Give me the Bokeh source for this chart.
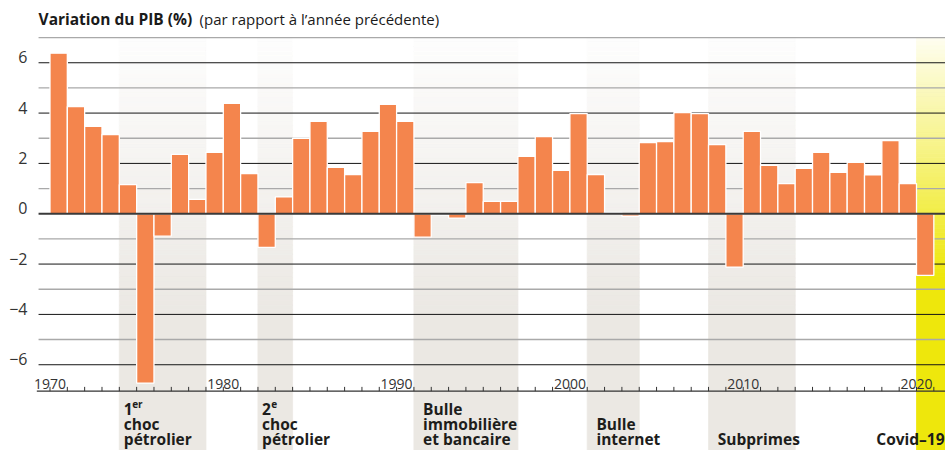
from bokeh.plotting import figure
from bokeh.models import ColumnDataSource, Range1d
from bokeh.core.properties import value
from bokeh.embed import file_html
from bokeh.resources import INLINE

# ---------------- data ----------------
years = list(range(1970, 2021))
gdp = [6.38, 4.26, 3.47, 3.15, 1.16, -6.73, -0.89, 2.36, 0.57, 2.44,
       4.39, 1.60, -1.34, 0.67, 3.00, 3.67, 1.84, 1.56, 3.27, 4.35,
       3.67, -0.93, -0.05, -0.17, 1.24, 0.49, 0.49, 2.28, 3.07, 1.72,
       3.98, 1.56, 0.05, -0.10, 2.83, 2.87, 4.02, 3.98, 2.75, -2.12,
       3.27, 1.92, 1.20, 1.80, 2.44, 1.65, 2.04, 1.55, 2.91, 1.20, -2.45]

y_ticks = [6, 4, 2, 0, -2, -4, -6]
y_tick_labels = ["6", "4", "2", "0", "\u22122", "\u22124", "\u22126"]
x_tick_years = [1970, 1980, 1990, 2000, 2010, 2020]

event_start = [1974, 1982, 1991, 2001, 2008, 2020]
event_end = [1979, 1984, 1997, 2004, 2013, 2022]
event_lines = [["1", "choc", "p\u00e9trolier"],
               ["2", "choc", "p\u00e9trolier"],
               ["Bulle", "immobili\u00e8re", "et bancaire"],
               ["Bulle", "internet"],
               ["Subprimes"],
               ["Covid\u201319"]]
event_sup = ["er", "e", "", "", "", ""]
event_kind = ["gray", "gray", "gray", "gray", "gray", "covid"]

title_bold = "Variation du PIB (%)"
title_rest = "(par rapport \u00e0 l\u2019ann\u00e9e pr\u00e9c\u00e9dente)"

# ---------------- layout / style ----------------
FONT = "Open Sans"
ORANGE = "#f4854d"
X0, X1 = 1967.144, 2021.673
Y0, Y1 = -9.408, 8.474
GRID_LEFT = 1969.34
AXIS_Y = -7.05
label_x = [1974.26, 1982.24, 1991.53, 2001.53, 2008.53, 2021.62]
label_align = ["left", "left", "left", "left", "left", "right"]
sup_x = [1974.74, 1982.76, None, None, None, None]
BASE_Y = -8.96
LINE_STEP = 0.596
SUP_Y = -7.56

p = figure(width=945, height=450, x_range=Range1d(X0, X1), y_range=Range1d(Y0, Y1),
           output_backend="svg", toolbar_location=None,
           x_axis_type=None, y_axis_type=None, min_border=0)
p.min_border_left = p.min_border_right = p.min_border_top = p.min_border_bottom = 0
p.outline_line_color = None
p.grid.visible = False
p.background_fill_color = "white"
p.border_fill_color = "white"


def mix(c, t):
    r, g, b = int(c[1:3], 16), int(c[3:5], 16), int(c[5:7], 16)
    rr = round(255 + (r - 255) * t)
    gg = round(255 + (g - 255) * t)
    bb = round(255 + (b - 255) * t)
    return "#%02x%02x%02x" % (rr, gg, bb)


# gradient bands
band_style = {"gray": ("#ebe8e3", -4.0, 0.08), "covid": ("#eee70c", -2.5, 0.06)}
N = 60
ql, qr, qt, qb, qc = [], [], [], [], []
for s, e, k in zip(event_start, event_end, event_kind):
    base, v_full, t0 = band_style[k]
    step = (7 - v_full) / N
    for i in range(N):
        top = 7 - i * step
        ql.append(s); qr.append(e); qt.append(top); qb.append(top - step)
        qc.append(mix(base, t0 + (1 - t0) * (i + 0.5) / N))
    ql.append(s); qr.append(e); qt.append(v_full); qb.append(Y0); qc.append(base)
p.quad(left=ql, right=qr, top=qt, bottom=qb, fill_color=qc, line_color=qc, line_width=0.8)

# gridlines
levels = [v for v in range(-6, 8) if v != 0]
gcol = ["#151515" if v % 2 == 0 else "#a9a9a9" for v in levels]
gw = [1.0 if v % 2 == 0 else 1.4 for v in levels]
p.segment(x0=[GRID_LEFT] * len(levels), x1=[X1] * len(levels), y0=levels, y1=levels,
          line_color=gcol, line_width=gw)

# bars
src = ColumnDataSource(dict(x=[y + 0.5 for y in years], top=gdp))
p.vbar(x="x", top="top", bottom=0, width=1.0, source=src,
       fill_color=ORANGE, line_color="white", line_width=1.3)

# zero line
p.segment(x0=[GRID_LEFT], x1=[X1], y0=[0], y1=[0], line_color="#3a3a3a", line_width=2)

# x axis line + ticks
p.segment(x0=[GRID_LEFT - 0.1], x1=[X1], y0=[AXIS_Y], y1=[AXIS_Y], line_color="#333333", line_width=1.4)
tick_years = list(range(1970, 2022))
p.segment(x0=tick_years, x1=tick_years, y0=[AXIS_Y] * len(tick_years),
          y1=[AXIS_Y + 0.17] * len(tick_years), line_color="#333333", line_width=1)
p.text(x=x_tick_years, y=[-6.75] * len(x_tick_years), text=[str(y) for y in x_tick_years],
       text_font=value(FONT), text_font_size="14px", text_color="#333333",
       text_align="center", text_baseline="alphabetic")

# y tick labels
p.text(x=[1968.70] * len(y_ticks), y=[v + 0.21 for v in y_ticks], text=y_tick_labels,
       text_font=value(FONT), text_font_size="16px", text_color="#333333",
       text_align="right", text_baseline="middle")

# title
p.text(x=[GRID_LEFT], y=[7.75], text=[title_bold], text_font=value(FONT),
       text_font_size="15.5px", text_font_style="bold", text_color="#1a1a1a",
       text_align="left", text_baseline="alphabetic")
p.text(x=[1978.63], y=[7.75], text=[title_rest], text_font=value(FONT),
       text_font_size="15px", text_color="#1a1a1a",
       text_align="left", text_baseline="alphabetic")

# event annotations
tx, ty, tt, ta = [], [], [], []
for lx, al, lines in zip(label_x, label_align, event_lines):
    n = len(lines)
    for j, line in enumerate(lines):
        tx.append(lx); ty.append(BASE_Y + (n - 1 - j) * LINE_STEP); tt.append(line); ta.append(al)
p.text(x=tx, y=ty, text=tt, text_align=ta, text_font=value(FONT), text_font_size="15.5px",
       text_font_style="bold", text_color="#1d1d1b", text_baseline="alphabetic")
sx, sy, st = [], [], []
for x_, sup, lines in zip(sup_x, event_sup, event_lines):
    if sup:
        sx.append(x_); sy.append(SUP_Y); st.append(sup)
p.text(x=sx, y=sy, text=st, text_font=value(FONT), text_font_size="10px",
       text_font_style="bold", text_color="#1d1d1b", text_align="left", text_baseline="alphabetic")

open("out.html", "w").write(file_html(p, INLINE))
